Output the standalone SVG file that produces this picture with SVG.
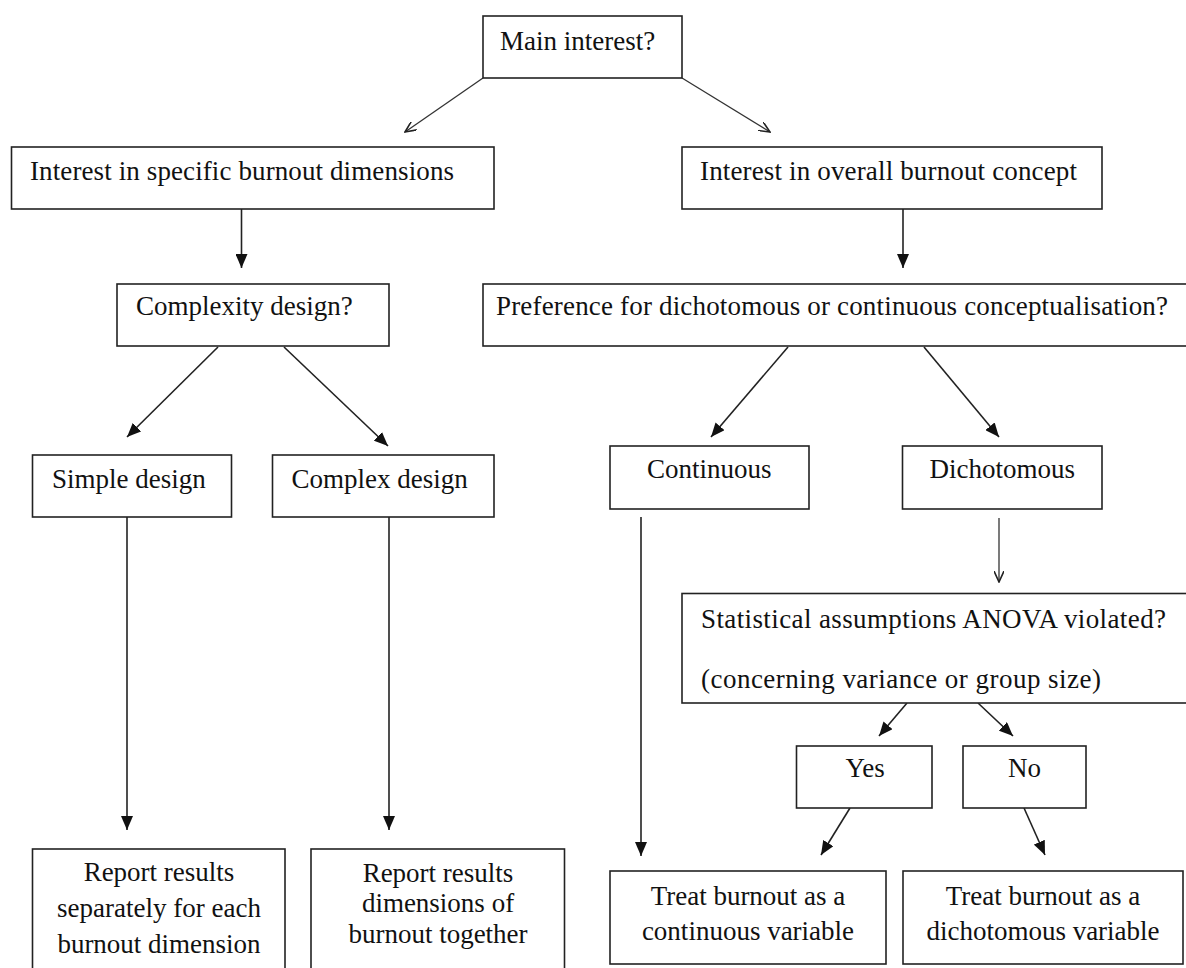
<svg xmlns="http://www.w3.org/2000/svg" width="1186" height="968" viewBox="0 0 1186 968">
<defs>
<style>
.box{fill:#fff;stroke:#222;stroke-width:1.6}
.t{font-family:"Liberation Serif","Times New Roman",serif;font-size:27px;fill:#111}
.c{text-anchor:middle}
.ln{stroke:#222;stroke-width:1.6;fill:none}
.thin{stroke:#333;stroke-width:1.3;fill:none}
</style>
<marker id="fa" viewBox="0 0 14 12" refX="14" refY="6" markerWidth="14" markerHeight="12" markerUnits="userSpaceOnUse" orient="auto">
<path d="M0,0 L14,6 L0,12 Z" fill="#111"/>
</marker>
<marker id="oa" viewBox="0 0 12 10" refX="11" refY="5" markerWidth="12" markerHeight="10" markerUnits="userSpaceOnUse" orient="auto">
<path d="M0,0 L11,5 L0,10" fill="none" stroke="#222" stroke-width="1.6"/>
</marker>
</defs>
<rect width="1186" height="968" fill="#fff"/>

<g id="connectors">
<line class="thin" x1="483" y1="78" x2="405" y2="132" marker-end="url(#oa)"/>
<line class="thin" x1="682" y1="78" x2="770" y2="132" marker-end="url(#oa)"/>
<line class="ln" x1="241.5" y1="209" x2="241.5" y2="268" marker-end="url(#fa)"/>
<line class="ln" x1="903" y1="209" x2="903" y2="268" marker-end="url(#fa)"/>
<line class="ln" x1="218" y1="347" x2="127" y2="437" marker-end="url(#fa)"/>
<line class="ln" x1="284" y1="347" x2="388" y2="446" marker-end="url(#fa)"/>
<line class="ln" x1="788" y1="347" x2="711" y2="437" marker-end="url(#fa)"/>
<line class="ln" x1="924" y1="347" x2="999" y2="437" marker-end="url(#fa)"/>
<line class="ln" x1="127" y1="517" x2="127" y2="830" marker-end="url(#fa)"/>
<line class="ln" x1="389" y1="517" x2="389" y2="830" marker-end="url(#fa)"/>
<line class="ln" x1="641" y1="517" x2="641" y2="856" marker-end="url(#fa)"/>
<line class="thin" x1="999" y1="518" x2="999" y2="582" marker-end="url(#oa)"/>
<line class="ln" x1="907" y1="703" x2="879" y2="736" marker-end="url(#fa)"/>
<line class="ln" x1="978" y1="703" x2="1013" y2="736" marker-end="url(#fa)"/>
<line class="ln" x1="850" y1="808" x2="821" y2="855" marker-end="url(#fa)"/>
<line class="ln" x1="1024" y1="808" x2="1045" y2="855" marker-end="url(#fa)"/>
</g>

<g id="main">
<rect class="box" x="483" y="16" width="199" height="62"/>
<text class="t" x="500" y="50">Main interest?</text>
</g>
<g id="specific">
<rect class="box" x="11.5" y="147" width="482.5" height="62"/>
<text class="t" x="30" y="180" textLength="424" lengthAdjust="spacing">Interest in specific burnout dimensions</text>
</g>
<g id="overall">
<rect class="box" x="682" y="147" width="420" height="62"/>
<text class="t" x="700" y="180" textLength="377" lengthAdjust="spacing">Interest in overall burnout concept</text>
</g>
<g id="complexity">
<rect class="box" x="117" y="284" width="272" height="62"/>
<text class="t" x="136" y="315">Complexity design?</text>
</g>
<g id="preference">
<rect class="box" x="483" y="284" width="720" height="62"/>
<text class="t" x="496" y="315" textLength="672" lengthAdjust="spacing">Preference for dichotomous or continuous conceptualisation?</text>
</g>
<g id="simple">
<rect class="box" x="32.5" y="455" width="199" height="62"/>
<text class="t" x="52" y="488">Simple design</text>
</g>
<g id="complex">
<rect class="box" x="272.5" y="455" width="221.5" height="62"/>
<text class="t" x="291.5" y="488">Complex design</text>
</g>
<g id="continuous">
<rect class="box" x="610" y="446" width="199" height="63"/>
<text class="t" x="647" y="478">Continuous</text>
</g>
<g id="dichotomous">
<rect class="box" x="902.5" y="446" width="199.5" height="63"/>
<text class="t" x="929.5" y="478">Dichotomous</text>
</g>
<g id="statistical">
<rect class="box" x="682" y="593.5" width="520" height="109.5"/>
<text class="t" x="701" y="628" textLength="465" lengthAdjust="spacing">Statistical assumptions ANOVA violated?</text>
<text class="t" x="701" y="688" textLength="400" lengthAdjust="spacing">(concerning variance or group size)</text>
</g>
<g id="yes">
<rect class="box" x="796.5" y="746" width="135.5" height="62"/>
<text class="t" x="845.5" y="777">Yes</text>
</g>
<g id="no">
<rect class="box" x="963" y="746" width="123" height="62"/>
<text class="t" x="1008" y="777">No</text>
</g>
<g id="report-separate">
<rect class="box" x="32.5" y="849" width="252.5" height="130"/>
<text class="t c" x="159" y="881">Report results</text>
<text class="t c" x="159" y="917">separately for each</text>
<text class="t c" x="159" y="953">burnout dimension</text>
</g>
<g id="report-together">
<rect class="box" x="311" y="849" width="253.5" height="130"/>
<text class="t c" x="438" y="882">Report results</text>
<text class="t c" x="438" y="912">dimensions of</text>
<text class="t c" x="438" y="943">burnout together</text>
</g>
<g id="treat-continuous">
<rect class="box" x="610" y="871" width="276" height="93"/>
<text class="t c" x="748" y="905">Treat burnout as a</text>
<text class="t c" x="748" y="940">continuous variable</text>
</g>
<g id="treat-dichotomous">
<rect class="box" x="903" y="871" width="280" height="93"/>
<text class="t c" x="1043" y="905">Treat burnout as a</text>
<text class="t c" x="1043" y="940">dichotomous variable</text>
</g>
</svg>
